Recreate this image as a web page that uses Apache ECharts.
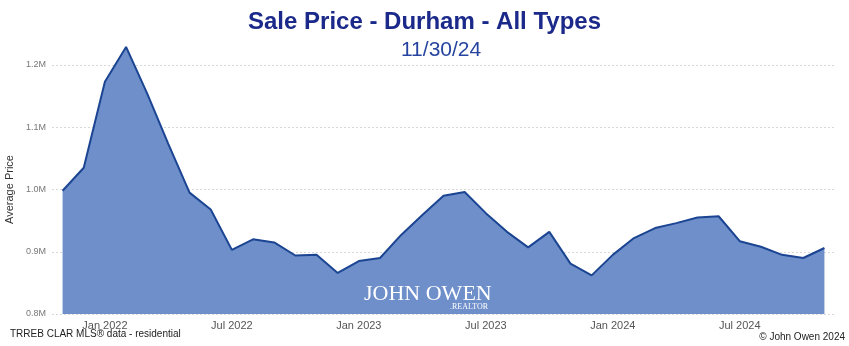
<!DOCTYPE html>
<html>
<head>
<meta charset="utf-8">
<script src="https://cdn.jsdelivr.net/npm/echarts@6/dist/echarts.min.js"></script>
<style>
html,body{margin:0;padding:0;background:#fff;}
#chart{width:849px;height:346px;}
</style>
</head>
<body>
<div id="chart"></div>
<script>
const months = ['Nov 2021','Dec 2021','Jan 2022','Feb 2022','Mar 2022','Apr 2022','May 2022','Jun 2022','Jul 2022','Aug 2022','Sep 2022','Oct 2022','Nov 2022','Dec 2022','Jan 2023','Feb 2023','Mar 2023','Apr 2023','May 2023','Jun 2023','Jul 2023','Aug 2023','Sep 2023','Oct 2023','Nov 2023','Dec 2023','Jan 2024','Feb 2024','Mar 2024','Apr 2024','May 2024','Jun 2024','Jul 2024','Aug 2024','Sep 2024','Oct 2024','Nov 2024'];
const avgPrice = [998000,1035000,1173000,1229000,1154000,1073000,995000,968000,903000,920000,915000,894000,895000,866000,885000,890000,927000,959000,990000,996000,962000,932000,907000,932000,881000,862000,895000,922000,938000,946000,955000,957000,917000,908000,895000,890000,906000];
const yTicks = [800000,900000,1000000,1100000,1200000];
const xLabelMonths = ['Jan 2022','Jul 2022','Jan 2023','Jul 2023','Jan 2024','Jul 2024'];

const chart = echarts.init(document.getElementById('chart'), null, {renderer:'canvas'});
chart.setOption({
  animation:false,
  backgroundColor:'#fff',
  title:[
    {text:'Sale Price - Durham - All Types',left:'center',top:5,
     textStyle:{fontFamily:'Liberation Sans',fontWeight:'bold',fontSize:24,color:'#1b2a8a'}},
    {text:'11/30/24',left:396,top:35,
     textStyle:{fontFamily:'Liberation Sans',fontWeight:'normal',fontSize:21,color:'#2745a0'}}
  ],
  grid:{left:52,right:14,top:65,bottom:32,outerBoundsMode:'none',containLabel:false},
  xAxis:{
    type:'category',data:months,boundaryGap:true,
    axisLine:{show:false},axisTick:{show:false},
    axisLabel:{
      interval:function(i,v){return xLabelMonths.indexOf(v)>=0;},
      formatter:function(v){return v.replace(' ','\u00a0');},
      fontFamily:'Liberation Sans',fontSize:11,color:'#555',margin:6
    }
  },
  yAxis:{
    type:'value',min:yTicks[0],max:yTicks[yTicks.length-1],interval:100000,
    name:'Average Price',nameLocation:'middle',nameGap:31,nameRotate:90,
    nameTextStyle:{fontFamily:'Liberation Sans',fontSize:11,color:'#333'},
    axisLine:{show:false},axisTick:{show:false},
    axisLabel:{fontFamily:'Liberation Sans',fontSize:9,color:'#777',margin:6,
      formatter:function(v){return (v/1000000).toFixed(1)+'M';}},
    splitLine:{show:true,lineStyle:{type:[2,2],color:'#d8d8d8',width:1}}
  },
  series:[{
    type:'line',data:avgPrice,symbol:'none',clip:false,
    lineStyle:{color:'#1b4592',width:2},
    areaStyle:{color:'#6f8fca',opacity:1},
    z:2
  }],
  graphic:[
    {type:'text',left:10,top:329,style:{text:'TRREB CLAR MLS\u00ae data - residential',fontFamily:'Liberation Sans',fontSize:10,fill:'#222'}},
    {type:'text',right:4,top:332,style:{text:'\u00a9 John Owen 2024',fontFamily:'Liberation Sans',fontSize:10,fill:'#222'}},
    {type:'text',left:364,top:283,z:10,style:{text:'JOHN OWEN',fontFamily:'Liberation Serif',fontSize:22,fill:'#ffffff'}},
    {type:'text',left:450,top:303,z:10,style:{text:'.REALTOR',fontFamily:'Liberation Serif',fontSize:8,fill:'#ffffff'}}
  ]
});
</script>
</body>
</html>
